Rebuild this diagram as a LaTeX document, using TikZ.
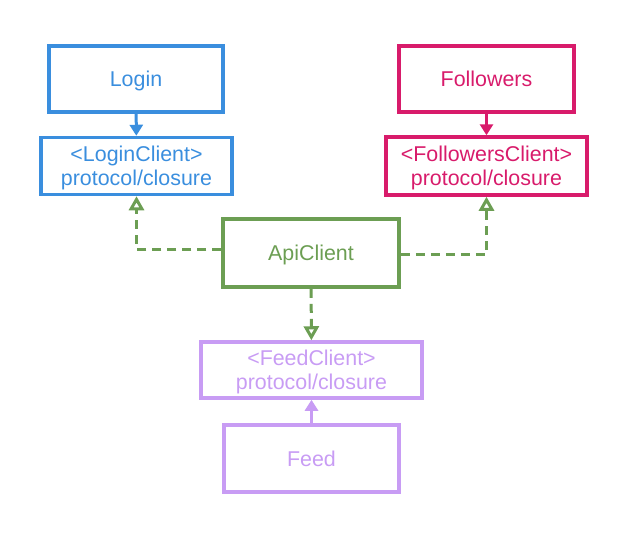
\documentclass[tikz,border=0pt]{standalone}
\usepackage{fontspec}
\setmainfont{Liberation Sans}
\usetikzlibrary{arrows.meta}
\definecolor{cblue}{HTML}{3A8EDE}
\definecolor{cpink}{HTML}{D81B6B}
\definecolor{cgreen}{HTML}{6C9E53}
\definecolor{cpurple}{HTML}{C89CF4}
\tikzset{
  box/.style={draw, line width=3.5pt, rectangle, inner sep=0pt, align=center,
    text depth=0pt, font=\fontsize{21.4}{24}\selectfont},
  uses/.style={line width=3pt, -{Triangle[width=13pt,length=11pt]}},
  dep/.style={line width=3pt, dash pattern=on 9pt off 6pt,
    -{Triangle[open,width=15pt,length=14pt,line width=3pt]}}
}
\begin{document}
\begin{tikzpicture}[x=1pt,y=-1pt]
\useasboundingbox (0,0) rectangle (630,542);
\node[box, cblue, minimum width=174pt, minimum height=66pt] (login) at (136,79) {Login};
\node[box, cblue, minimum width=191pt, minimum height=57pt] (lc) at (136.5,166) {<LoginClient>\\protocol/closure};
\node[box, cpink, minimum width=175pt, minimum height=66pt] (fol) at (486.5,79) {Followers};
\node[box, cpink, minimum width=201pt, minimum height=58pt] (fc) at (486.5,166) {<FollowersClient>\\protocol/closure};
\node[box, cgreen, minimum width=176pt, minimum height=68pt] (api) at (311,253) {ApiClient};
\node[box, cpurple, minimum width=221pt, minimum height=56pt] (feedc) at (311.5,370) {<FeedClient>\\protocol/closure};
\node[box, cpurple, minimum width=175pt, minimum height=67pt] (feed) at (311.5,458.5) {Feed};
\draw[uses, cblue] (login) -- (lc);
\draw[uses, cpink] (fol) -- (fc);
\draw[uses, cpurple] (feed) -- (feedc);
\draw[dep, cgreen] ([yshift=4pt]api.west) -| (lc.south);
\draw[dep, cgreen] ([yshift=-1pt]api.east) -| (fc.south);
\draw[dep, cgreen] (api) -- (feedc);
\end{tikzpicture}
\end{document}
